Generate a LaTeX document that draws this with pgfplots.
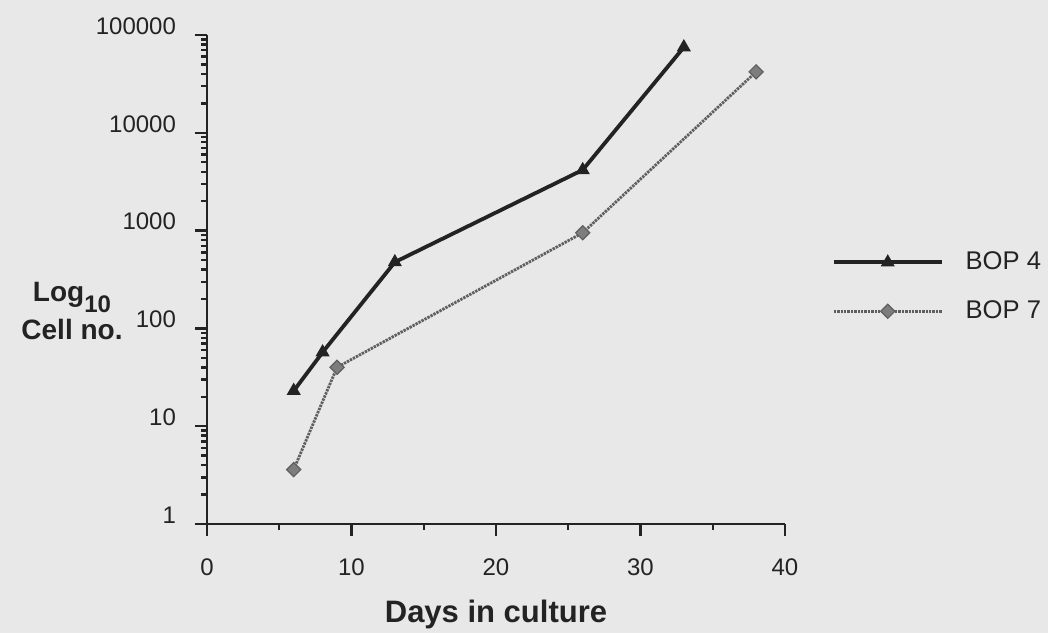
\documentclass[border=0pt]{standalone}
\usepackage{pgfplots}
\pgfplotsset{compat=1.18}
\usepackage{fontspec}
\setmainfont{Liberation Sans}
\definecolor{bgcol}{RGB}{232,232,232}
\definecolor{bopfour}{RGB}{35,35,35}
\definecolor{bopseven}{RGB}{95,95,95}
\definecolor{diafill}{RGB}{125,125,125}

\begin{document}
\begin{tikzpicture}
\useasboundingbox (0,0) rectangle (524pt,316.5pt);
\fill[bgcol] (0,0) rectangle (524pt,316.5pt);
\begin{axis}[
    at={(103.5pt,54.5pt)}, anchor=south west,
    scale only axis, width=289pt, height=244.5pt,
    ymode=log, ymin=1, ymax=100000,
    xmin=0, xmax=40,
    axis x line*=bottom, axis y line*=left,
    axis line style={line width=1.4pt, bopfour, -},
    xtick={0,10,20,30,40}, minor xtick={5,15,25,35},
    ytick={1,10,100,1000,10000,100000},
    yticklabels={1,10,100,1000,10000,100000},
    tick align=outside,
    major tick length=6pt, minor tick length=3pt,
    every tick/.style={line width=1.2pt, bopfour},
    /pgf/number format/assume math mode=true,
    tick label style={font=\fontsize{12}{14}\selectfont, text=bopfour},
    xticklabel style={yshift=-8pt},
    yticklabel style={xshift=-6pt, yshift=4.5pt},
    xlabel={\textbf{Days in culture}},
    xlabel style={font=\fontsize{15.5}{17}\selectfont, text=bopfour, yshift=-5pt},
    clip=false,
    legend style={at={(1.07,0.485)}, anchor=west, draw=none, fill=none,
        font=\fontsize{12.8}{14}\selectfont, text=bopfour, row sep=10pt,
        legend cell align=left},
    legend image code/.code={\draw[mark repeat=2, mark phase=2, #1]
        plot coordinates {(0pt,0pt) (27pt,0pt) (54pt,0pt)};},
]
\addplot[bopfour, line width=1.9pt, mark=triangle*, mark size=2.2pt,
    mark options={solid}] coordinates {
    (6,23) (8,57) (13,476) (26,4170) (33,75000)
};
\addlegendentry{\hspace{9pt}BOP 4}
\addplot[bopseven, line width=1.4pt, dash pattern=on 1.2pt off 0.5pt,
    mark=square*, mark size=2.5pt,
    mark options={solid, rotate=45, fill=diafill, draw=bopseven, line width=0.6pt}]
    coordinates {
    (6,3.6) (9,40) (26,950) (38,42000)
};
\addlegendentry{\hspace{9pt}BOP 7}
\end{axis}
\node[align=center, text=bopfour, font=\bfseries\fontsize{14}{19}\selectfont]
    at (36pt,161pt) {Log\raisebox{-5.5pt}{\fontsize{12}{12}\selectfont 10}\\Cell no.};
\end{tikzpicture}
\end{document}
